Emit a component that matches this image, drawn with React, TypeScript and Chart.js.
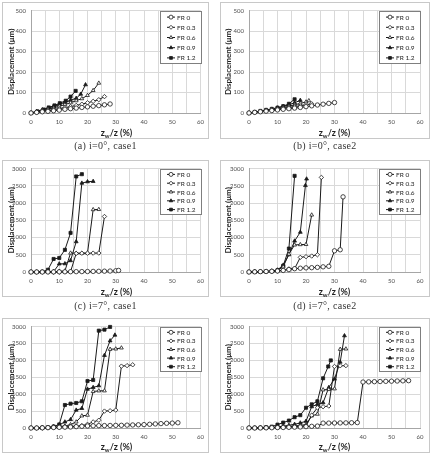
import React, { useEffect, useRef } from "react";
import { Chart, registerables } from "chart.js";
import { drawPoint } from "chart.js/helpers";

Chart.register(...registerables);

// ---------- labels ----------
const SERIES = ["FR 0", "FR 0.3", "FR 0.6", "FR 0.9", "FR 1.2"];
const X_TICKS = [0, 10, 20, 30, 40, 50, 60];
const Y_TICKS_SMALL = [0, 100, 200, 300, 400, 500];
const Y_TICKS_LARGE = [0, 500, 1000, 1500, 2000, 2500, 3000];
const CAPTIONS = [
  "(a) i=0°, case1",
  "(b) i=0°, case2",
  "(c) i=7°, case1",
  "(d) i=7°, case2",
  "(e) i=14°, case1",
  "(f) i=14°, case2",
];

// ---------- (a) i=0°, case1 ----------
const A_FR0_X = [0, 2, 4, 6, 8, 10, 12, 14, 16, 18, 20, 22, 24, 26, 28];
const A_FR0_Y = [0, 3, 6, 8, 11, 14, 18, 21, 24, 27, 30, 33, 36, 40, 44];
const A_FR03_X = [0, 2, 4, 6, 8, 10, 12, 14, 16, 18, 20, 22, 24, 26];
const A_FR03_Y = [0, 4, 8, 12, 16, 21, 26, 31, 37, 43, 50, 57, 65, 80];
const A_FR06_X = [0, 2, 4, 6, 8, 10, 12, 14, 16, 18, 20, 22, 24];
const A_FR06_Y = [0, 6, 12, 18, 25, 33, 41, 50, 60, 70, 86, 110, 146];
const A_FR09_X = [0, 2, 4, 6, 8, 10, 12, 14, 16, 17.6, 19.3];
const A_FR09_Y = [0, 8, 16, 24, 32, 42, 52, 62, 72, 92, 138];
const A_FR12_X = [0, 2.3, 4.5, 6.3, 8.3, 10.2, 12.3, 14, 15.8];
const A_FR12_Y = [0, 8, 17, 27, 37, 48, 60, 80, 108];

// ---------- (b) i=0°, case2 ----------
const B_FR0_X = [0, 2, 4, 6, 8, 10, 12, 14, 16, 18, 20, 22, 24, 26, 28, 30];
const B_FR0_Y = [0, 3, 6, 9, 12, 15, 18, 21, 24, 27, 31, 35, 39, 43, 47, 51];
const B_FR03_X = [0, 2, 4, 6, 8, 10, 12, 14, 16, 18, 20, 22];
const B_FR03_Y = [0, 4, 7, 11, 15, 19, 23, 27, 31, 35, 40, 45];
const B_FR06_X = [0, 2, 4, 6, 8, 10, 12, 14, 16, 18, 20, 21];
const B_FR06_Y = [0, 4, 8, 12, 17, 22, 27, 33, 40, 47, 54, 60];
const B_FR09_X = [0, 2, 4, 6, 8, 10, 12, 14, 16, 18];
const B_FR09_Y = [0, 4, 9, 14, 19, 25, 32, 40, 50, 62];
const B_FR12_X = [0, 2, 4, 6, 8, 10, 12, 14, 16];
const B_FR12_Y = [0, 5, 10, 15, 20, 26, 33, 45, 67];

// ---------- (c) i=7°, case1 ----------
const C_FR0_X = [0, 2, 4, 6, 8, 10, 12, 14, 16, 18, 20, 22, 24, 26, 28, 30, 31];
const C_FR0_Y = [0, 0, 0, 2, 3, 5, 6, 8, 10, 12, 14, 17, 20, 24, 28, 35, 45];
const C_FR03_X = [0, 2, 4, 6, 8, 10, 12, 14, 16, 18, 20, 22, 24, 26];
const C_FR03_Y = [0, 0, 0, 0, 0, 0, 5, 10, 540, 545, 545, 548, 550, 1610];
const C_FR06_X = [0, 2, 4, 6, 8, 10, 12, 14, 16, 18, 20, 22, 24];
const C_FR06_Y = [0, 0, 0, 0, 0, 20, 30, 550, 545, 545, 550, 1810, 1815];
const C_FR09_X = [0, 2, 4, 6, 8, 10, 12, 14, 16, 18, 20, 22];
const C_FR09_Y = [0, 0, 0, 0, 10, 236, 240, 330, 880, 2580, 2620, 2630];
const C_FR12_X = [0, 2, 4, 6, 8, 10, 12, 14, 16, 18];
const C_FR12_Y = [0, 0, 5, 66, 378, 407, 643, 1135, 2772, 2838];

// ---------- (d) i=7°, case2 ----------
const D_FR0_X = [0, 2, 4, 6, 8, 10, 12, 14, 16, 18, 20, 22, 24, 26, 28, 30, 32, 33];
const D_FR0_Y = [0, 5, 10, 15, 20, 30, 45, 70, 95, 110, 120, 125, 135, 150, 165, 615, 645, 2180];
const D_FR03_X = [0, 2, 4, 6, 8, 10, 12, 14, 16, 18, 20, 22, 24, 25.4];
const D_FR03_Y = [0, 3, 6, 10, 15, 25, 50, 90, 95, 425, 445, 463, 500, 2745];
const D_FR06_X = [0, 2, 4, 6, 8, 10, 12, 14, 16, 18, 20, 22];
const D_FR06_Y = [0, 5, 10, 15, 25, 45, 150, 520, 785, 795, 800, 1655];
const D_FR09_X = [0, 2, 4, 6, 8, 10, 12, 14, 16, 18, 19.8, 20.2];
const D_FR09_Y = [0, 5, 10, 15, 30, 60, 200, 500, 900, 1155, 2510, 2700];
const D_FR12_X = [0, 2, 4, 6, 8, 10, 12, 14, 16];
const D_FR12_Y = [0, 5, 10, 15, 25, 50, 180, 680, 2790];

// ---------- (e) i=14°, case1 ----------
const E_FR0_X = [0, 2, 4, 6, 8, 10, 12, 14, 16, 18, 20, 22, 24, 26, 28, 30, 32, 34, 36, 38, 40, 42, 44, 46, 48, 50, 52];
const E_FR0_Y = [0, 0, 5, 10, 15, 20, 25, 30, 40, 50, 60, 65, 70, 72, 75, 78, 80, 85, 90, 95, 100, 110, 120, 130, 140, 145, 155];
const E_FR03_X = [0, 2, 4, 6, 8, 10, 12, 14, 16, 18, 20, 22, 24, 26, 28, 30, 32, 34, 36];
const E_FR03_Y = [0, 0, 0, 5, 10, 20, 30, 40, 50, 70, 110, 180, 230, 500, 510, 530, 1830, 1845, 1870];
const E_FR06_X = [0, 2, 4, 6, 8, 10, 12, 14, 16, 18, 20, 22, 24, 26, 28, 30, 32];
const E_FR06_Y = [0, 0, 5, 10, 20, 40, 60, 100, 180, 360, 380, 1080, 1100, 1100, 2330, 2340, 2370];
const E_FR09_X = [0, 2, 4, 6, 8, 10, 12, 14, 16, 18, 20, 22, 24, 26, 28, 29.7];
const E_FR09_Y = [0, 0, 5, 15, 40, 90, 180, 250, 530, 580, 1150, 1200, 1250, 2150, 2580, 2750];
const E_FR12_X = [0, 2, 4, 6, 8, 10, 12, 14, 16, 18, 20, 22, 24, 26, 28];
const E_FR12_Y = [0, 0, 10, 20, 45, 105, 680, 720, 740, 790, 1390, 1420, 2880, 2910, 2990];

// ---------- (f) i=14°, case2 ----------
const F_FR0_X = [0, 2, 4, 6, 8, 10, 12, 14, 16, 18, 20, 22, 24, 26, 28, 30, 32, 34, 36, 38, 40, 42, 44, 46, 48, 50, 52, 54, 56];
const F_FR0_Y = [0, 0, 2, 5, 8, 12, 15, 20, 25, 30, 40, 50, 57, 144, 145, 148, 150, 152, 155, 160, 1360, 1365, 1370, 1375, 1380, 1385, 1390, 1395, 1400];
const F_FR03_X = [0, 2, 4, 6, 8, 10, 12, 14, 16, 18, 20, 22, 24, 26, 28, 30, 32, 34];
const F_FR03_Y = [0, 0, 3, 6, 10, 15, 20, 30, 40, 50, 60, 380, 600, 630, 650, 1820, 1840, 1845];
const F_FR06_X = [0, 2, 4, 6, 8, 10, 12, 14, 16, 18, 20, 22, 24, 26, 28, 30, 32, 34];
const F_FR06_Y = [0, 0, 2, 5, 10, 20, 30, 45, 60, 80, 100, 360, 410, 1130, 1140, 1160, 2330, 2340];
const F_FR09_X = [0, 2, 4, 6, 8, 10, 12, 14, 16, 18, 20, 22, 24, 26, 28, 30, 32, 33.5];
const F_FR09_Y = [0, 0, 5, 10, 20, 35, 55, 80, 110, 150, 200, 630, 700, 750, 1200, 1450, 1950, 2730];
const F_FR12_X = [0, 2, 4, 6, 8, 10, 12, 14, 16, 18, 20, 22, 24, 26, 27.8, 28.7];
const F_FR12_Y = [0, 5, 10, 20, 40, 100, 160, 220, 320, 380, 600, 700, 790, 1470, 1820, 2000];

// ---------- styling ----------
const MARKERS = ["circle", "rectRot", "triangle", "triangle", "rect"];
const FILLED = [false, false, false, true, true];
const LINE = "#1a1a1a";
const GRID = "#d9d9d9";
const AXIS = "#a6a6a6";
const TICK_COLOR = "#4d4d4d";
const TITLE_COLOR = "#1f1f1f";
const SANS = "Lato, 'Liberation Sans', sans-serif";

type PanelSpec = {
  caption: string;
  left: number;
  top: number;
  width: number;
  height: number;
  plotLeft: number;
  plotRight: number;
  plotTop: number;
  plotBottom: number;
  yTitlePad: number;
  xTitleY: number;
  captionY: number;
  legendH: number;
  yTicks: number[];
  xs: number[][];
  ys: number[][];
};

const LEFT_COL = { left: 2, width: 207, yTitlePad: 5 };
const RIGHT_COL = { left: 220, width: 210, yTitlePad: 4 };

const PANELS: PanelSpec[] = [
  {
    caption: CAPTIONS[0], ...LEFT_COL, top: 2, height: 137,
    plotLeft: 29, plotRight: 200, plotTop: 6, plotBottom: 111,
    xTitleY: 133, captionY: 146, legendH: 53, yTicks: Y_TICKS_SMALL,
    xs: [A_FR0_X, A_FR03_X, A_FR06_X, A_FR09_X, A_FR12_X],
    ys: [A_FR0_Y, A_FR03_Y, A_FR06_Y, A_FR09_Y, A_FR12_Y],
  },
  {
    caption: CAPTIONS[1], ...RIGHT_COL, top: 2, height: 137,
    plotLeft: 29, plotRight: 200, plotTop: 6, plotBottom: 111,
    xTitleY: 133, captionY: 146, legendH: 53, yTicks: Y_TICKS_SMALL,
    xs: [B_FR0_X, B_FR03_X, B_FR06_X, B_FR09_X, B_FR12_X],
    ys: [B_FR0_Y, B_FR03_Y, B_FR06_Y, B_FR09_Y, B_FR12_Y],
  },
  {
    caption: CAPTIONS[2], ...LEFT_COL, top: 160, height: 137,
    plotLeft: 29, plotRight: 200, plotTop: 6, plotBottom: 112,
    xTitleY: 292, captionY: 306, legendH: 46, yTicks: Y_TICKS_LARGE,
    xs: [C_FR0_X, C_FR03_X, C_FR06_X, C_FR09_X, C_FR12_X],
    ys: [C_FR0_Y, C_FR03_Y, C_FR06_Y, C_FR09_Y, C_FR12_Y],
  },
  {
    caption: CAPTIONS[3], ...RIGHT_COL, top: 160, height: 137,
    plotLeft: 29, plotRight: 200, plotTop: 6, plotBottom: 112,
    xTitleY: 292, captionY: 306, legendH: 46, yTicks: Y_TICKS_LARGE,
    xs: [D_FR0_X, D_FR03_X, D_FR06_X, D_FR09_X, D_FR12_X],
    ys: [D_FR0_Y, D_FR03_Y, D_FR06_Y, D_FR09_Y, D_FR12_Y],
  },
  {
    caption: CAPTIONS[4], ...LEFT_COL, top: 318, height: 135,
    plotLeft: 29, plotRight: 200, plotTop: 5, plotBottom: 110,
    xTitleY: 447, captionY: 463, legendH: 45, yTicks: Y_TICKS_LARGE,
    xs: [E_FR0_X, E_FR03_X, E_FR06_X, E_FR09_X, E_FR12_X],
    ys: [E_FR0_Y, E_FR03_Y, E_FR06_Y, E_FR09_Y, E_FR12_Y],
  },
  {
    caption: CAPTIONS[5], ...RIGHT_COL, top: 318, height: 135,
    plotLeft: 29, plotRight: 200, plotTop: 5, plotBottom: 110,
    xTitleY: 447, captionY: 463, legendH: 45, yTicks: Y_TICKS_LARGE,
    xs: [F_FR0_X, F_FR03_X, F_FR06_X, F_FR09_X, F_FR12_X],
    ys: [F_FR0_Y, F_FR03_Y, F_FR06_Y, F_FR09_Y, F_FR12_Y],
  },
];

function boxLegend(h: number) {
  return {
    id: "boxLegend",
    afterDraw(chart: any) {
      const { ctx, chartArea } = chart;
      const w = 42;
      const x0 = Math.round(chartArea.right) - w + 1;
      const y0 = Math.round(chartArea.top);
      ctx.save();
      ctx.fillStyle = "#ffffff";
      ctx.fillRect(x0, y0, w, h);
      ctx.strokeStyle = "#7f7f7f";
      ctx.lineWidth = 1;
      ctx.strokeRect(x0 + 0.5, y0 + 0.5, w - 1, h - 1);
      const rowH = (h - 2) / SERIES.length;
      SERIES.forEach((label, i) => {
        const cy = y0 + 1 + rowH * (i + 0.5);
        ctx.strokeStyle = LINE;
        ctx.lineWidth = 1;
        ctx.beginPath();
        ctx.moveTo(x0 + 7, cy);
        ctx.lineTo(x0 + 15, cy);
        ctx.stroke();
        ctx.fillStyle = FILLED[i] ? LINE : "#ffffff";
        ctx.lineWidth = 0.8;
        drawPoint(ctx, { pointStyle: MARKERS[i], radius: 2, borderWidth: 0.8, rotation: 0 } as any, x0 + 11, cy);
        ctx.fillStyle = TITLE_COLOR;
        ctx.font = `6.5px ${SANS}`;
        ctx.textBaseline = "middle";
        ctx.textAlign = "left";
        ctx.fillText(label, x0 + 17, cy + 0.5);
      });
      ctx.restore();
    },
  };
}

function ChartPanel({ p }: { p: PanelSpec }) {
  const ref = useRef<HTMLCanvasElement>(null);

  useEffect(() => {
    const canvas = ref.current;
    if (!canvas) return;
    const datasets = SERIES.map((label, i) => ({
      label,
      data: p.xs[i].map((x, j) => ({ x, y: p.ys[i][j] })),
      borderColor: LINE,
      backgroundColor: LINE,
      borderWidth: 1,
      pointStyle: MARKERS[i],
      pointRadius: 2.2,
      pointBorderWidth: 0.8,
      pointBackgroundColor: FILLED[i] ? LINE : "#ffffff",
      pointBorderColor: LINE,
      tension: 0,
      fill: false,
      clip: false,
    }));
    const yMax = p.yTicks[p.yTicks.length - 1];
    const yStep = p.yTicks[1] - p.yTicks[0];
    const chart = new Chart(canvas, {
      type: "line",
      data: { datasets } as any,
      options: {
        responsive: false,
        animation: false,
        devicePixelRatio: 1,
        events: [],
        layout: {
          padding: { left: 0, top: p.plotTop, right: p.width - p.plotRight, bottom: 0 },
        },
        plugins: { legend: { display: false }, tooltip: { enabled: false } },
        scales: {
          x: {
            type: "linear",
            min: 0,
            max: 60,
            afterFit: (s: any) => {
              s.height = p.height - p.plotBottom;
            },
            ticks: {
              stepSize: 5,
              autoSkip: false,
              maxRotation: 0,
              padding: 5,
              color: TICK_COLOR,
              font: { family: SANS, size: 6 },
              callback: (v: any) => (X_TICKS.includes(Number(v)) ? String(v) : ""),
            },
            grid: { color: GRID, lineWidth: 1, drawTicks: false },
            border: { color: AXIS },
          },
          y: {
            type: "linear",
            min: 0,
            max: yMax,
            afterFit: (s: any) => {
              s.width = p.plotLeft;
            },
            ticks: {
              stepSize: yStep,
              padding: 5,
              color: TICK_COLOR,
              font: { family: SANS, size: 6 },
              callback: (v: any) => String(v),
            },
            grid: { color: GRID, lineWidth: 1, drawTicks: false },
            border: { color: AXIS },
            title: {
              display: true,
              text: "Displacement (μm)",
              color: TITLE_COLOR,
              font: { family: SANS, size: 8, weight: "bold" },
              padding: { top: p.yTitlePad, bottom: 0 },
            },
          },
        },
      } as any,
      plugins: [boxLegend(p.legendH)],
    });
    return () => chart.destroy();
  }, []);

  const plotCenter = p.left + (p.plotLeft + p.plotRight) / 2;
  return (
    <>
      <canvas
        ref={ref}
        width={p.width}
        height={p.height}
        style={{ position: "absolute", left: p.left, top: p.top, width: p.width, height: p.height }}
      />
      <div
        style={{
          position: "absolute",
          left: p.left,
          top: p.top,
          width: p.width,
          height: p.height,
          boxSizing: "border-box",
          border: "1px solid #c8c8c8",
          pointerEvents: "none",
        }}
      />
      <div
        style={{
          position: "absolute",
          left: plotCenter - 40,
          width: 80,
          top: p.xTitleY - 6,
          height: 12,
          lineHeight: "12px",
          textAlign: "center",
          fontFamily: SANS,
          fontWeight: "bold",
          fontSize: 9,
          color: TITLE_COLOR,
          whiteSpace: "nowrap",
        }}
      >
        z<span style={{ fontSize: 6, position: "relative", top: 2 }}>w</span>/z (%)
      </div>
      <div
        style={{
          position: "absolute",
          left: p.left + p.width / 2 - 70,
          width: 140,
          top: p.captionY - 7,
          height: 14,
          lineHeight: "14px",
          textAlign: "center",
          fontFamily: "'Liberation Serif', serif",
          fontSize: 10,
          color: "#333",
          whiteSpace: "nowrap",
          letterSpacing: 0.3,
        }}
      >
        {p.caption}
      </div>
    </>
  );
}

export default function App() {
  return (
    <div
      style={{
        position: "absolute",
        left: 0,
        top: 0,
        width: 431,
        height: 458,
        overflow: "hidden",
        background: "#ffffff",
      }}
    >
      {PANELS.map((p, i) => (
        <ChartPanel key={i} p={p} />
      ))}
    </div>
  );
}
